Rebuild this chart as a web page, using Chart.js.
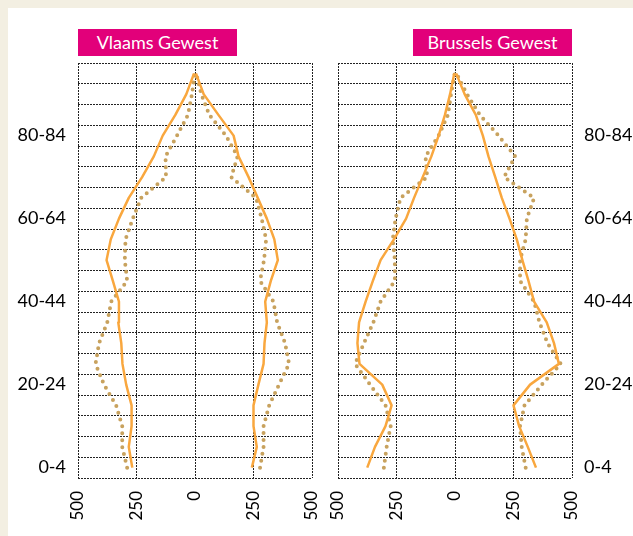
<!DOCTYPE html>
<html>
<head>
<meta charset="utf-8">
<script src="https://cdn.jsdelivr.net/npm/chart.js@4/dist/chart.umd.min.js"></script>
<style>
  html, body { margin: 0; padding: 0; }
  body { width: 633px; height: 536px; background: #f3efe2; position: relative; overflow: hidden; font-family: Lato, "Open Sans", sans-serif; }
  .panel { position: absolute; left: 8px; top: 8px; right: 0; bottom: 0; background: #fff; }
  .box { position: absolute; top: 29px; height: 27px; line-height: 27px; background: #e2007a; color: #fff; font-size: 18px; text-align: center; }
  canvas { position: absolute; top: 0; }
</style>
</head>
<body>
<div class="panel"></div>
<div class="box" style="left:78px;width:159px;">Vlaams Gewest</div>
<div class="box" style="left:413px;width:159px;">Brussels Gewest</div>
<canvas id="left-chart" style="left:0;width:320px;height:536px;" width="320" height="536"></canvas>
<canvas id="right-chart" style="left:320px;width:313px;height:536px;" width="313" height="536"></canvas>
<script>
const ageGroups = ['0-4', '5-9', '10-14', '15-19', '20-24', '25-29', '30-34', '35-39', '40-44', '45-49',
  '50-54', '55-59', '60-64', '65-69', '70-74', '75-79', '80-84', '85-89', '90-94', '95+'];
const xTicks = [-500, -250, 0, 250, 500];

// Vlaams Gewest (left = men, right = women)
const vlaamsSolidMen = [-268, -283, -271, -271, -294, -310, -315, -328, -325, -351,
  -378, -360, -325, -283, -226, -176, -138, -84, -37, -4];
const vlaamsSolidWomen = [243, 264, 250, 250, 271, 293, 297, 307, 300, 324,
  354, 339, 307, 268, 229, 186, 165, 100, 37, 4];
const vlaamsDotMen = [-290, -311, -311, -337, -389, -425, -410, -375, -358, -290,
  -300, -297, -266, -230, -124, -126, -77, -30, -13, -1];
const vlaamsDotWomen = [278, 293, 293, 317, 359, 402, 385, 351, 335, 278,
  295, 304, 285, 261, 155, 182, 132, 61, 27, 5];

// Brussels Gewest
const brusselSolidMen = [-375, -342, -297, -271, -311, -408, -417, -410, -382, -351,
  -318, -261, -209, -175, -138, -101, -70, -43, -21, -3];
const brusselSolidWomen = [346, 311, 274, 250, 321, 444, 423, 392, 338, 314,
  288, 264, 233, 200, 172, 143, 119, 89, 41, 5];
const brusselDotMen = [-304, -292, -275, -297, -363, -427, -389, -349, -318, -257,
  -257, -266, -254, -233, -119, -126, -70, -30, -17, -1];
const brusselDotWomen = [302, 285, 278, 297, 371, 452, 395, 361, 338, 278,
  278, 302, 307, 338, 210, 257, 186, 106, 51, 6];

const solidColor = '#f9a73e';
const dotColor = '#c8a25e';

const makeSeries = (data, dotted) => ({
  data: data,
  borderColor: dotted ? dotColor : solidColor,
  borderWidth: dotted ? 4 : 2.5,
  borderDash: dotted ? [0, 7] : [],
  borderCapStyle: dotted ? 'round' : 'butt',
  borderJoinStyle: 'round',
  pointRadius: 0,
  tension: 0,
  fill: false,
});

const makeChart = (id, series, side) => {
  const ctx = document.getElementById(id).getContext('2d');
  return new Chart(ctx, {
    type: 'line',
    data: {
      labels: ageGroups,
      datasets: [
        makeSeries(series[0], false),
        makeSeries(series[1], false),
        makeSeries(series[2], true),
        makeSeries(series[3], true),
      ],
    },
    options: {
      indexAxis: 'y',
      responsive: false,
      animation: false,
      layout: {
        padding: side === 'left'
          ? { left: 0, right: 8, top: 63, bottom: 0 }
          : { left: 18, right: 0, top: 63, bottom: 0 },
      },
      plugins: { legend: { display: false }, tooltip: { enabled: false } },
      scales: {
        x: {
          type: 'linear',
          min: xTicks[0],
          max: xTicks[xTicks.length - 1],
          afterBuildTicks: (scale) => { scale.ticks = xTicks.map((v) => ({ value: v })); },
          afterFit: (scale) => {
            scale.height = 58;
            scale.paddingLeft = 0;
            scale.paddingRight = 0;
          },
          grid: { color: '#222', lineWidth: 1, drawTicks: false },
          border: { display: false, dash: [2, 1] },
          ticks: {
            minRotation: 90,
            maxRotation: 90,
            padding: 13,
            color: '#000',
            font: { family: 'Lato', size: 17 },
            callback: (v) => String(Math.abs(v)),
          },
        },
        y: {
          type: 'category',
          position: side === 'left' ? 'left' : 'right',
          reverse: true,
          offset: true,
          afterFit: (scale) => { scale.width = side === 'left' ? 78 : 61; },
          grid: { offset: true, color: '#222', lineWidth: 1, drawTicks: false },
          border: { display: false, dash: [2, 1] },
          ticks: {
            autoSkip: false,
            padding: 12,
            color: '#000',
            font: { family: 'Lato', size: 18 },
            callback: (v, i) => (i % 4 === 0 ? ageGroups[i] : ''),
          },
        },
      },
    },
  });
};

makeChart('left-chart', [vlaamsSolidMen, vlaamsSolidWomen, vlaamsDotMen, vlaamsDotWomen], 'left');
makeChart('right-chart', [brusselSolidMen, brusselSolidWomen, brusselDotMen, brusselDotWomen], 'right');
</script>
</body>
</html>
